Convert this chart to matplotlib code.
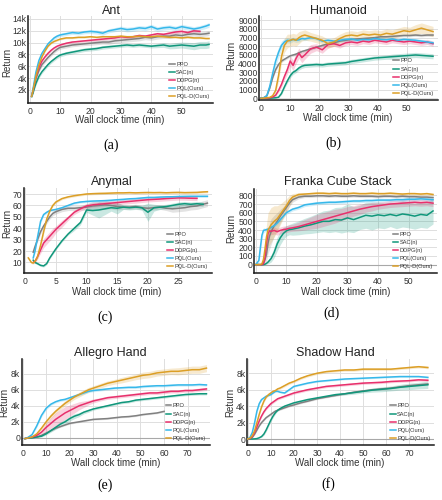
import numpy as np
import matplotlib.pyplot as plt

plt.rcParams['font.family'] = ['Liberation Sans', 'DejaVu Sans']

nan = np.nan

labels = ['PPO', 'SAC(n)', 'DDPG(n)', 'PQL(Ours)', 'PQL-D(Ours)']
colors = ['#808080', '#10977b', '#e8306c', '#36b8ea', '#dc9f26']

# ---- (a) Ant, return in k ----
ant_t = [0.6, 1, 1.5, 2, 3, 4, 5, 6, 7, 8, 9, 10, 12, 14, 16, 18, 20, 22, 24,
         26, 28, 30, 32, 34, 36, 38, 40, 42, 44, 46, 48, 50, 52, 54, 56, 58, 59]
ant_ppo = [1.0, 1.7, 2.8, 3.9, 5.3, 6.3, 6.9, 7.5, 8.0, 8.5, 8.9, 9.2, 9.4,
           9.6, 9.7, 9.8, 9.9, 10.0, 10.1, 10.1, 10.3, 10.4, 10.5, 10.6, 10.7,
           10.9, 10.8, 11.0, 11.1, 11.1, 11.3, 11.2, 11.4, 11.5, 11.4, 11.5, 11.6]
ant_sac = [0.9, 1.4, 2.3, 3.1, 4.3, 5.1, 5.7, 6.3, 6.8, 7.2, 7.6, 7.9, 8.2,
           8.4, 8.6, 8.8, 8.9, 9.0, 9.2, 9.3, 9.4, 9.5, 9.6, 9.5, 9.6, 9.5,
           9.4, 9.5, 9.6, 9.4, 9.5, 9.6, 9.5, 9.4, 9.6, 9.6, 9.7]
ant_ddpg = [1.0, 1.8, 3.0, 4.2, 5.8, 6.9, 7.6, 8.2, 8.7, 9.1, 9.4, 9.6, 9.9,
            10.1, 10.2, 10.3, 10.4, 10.5, 10.6, 10.7, 10.8, 11.0, 10.9, 11.0,
            11.2, 11.1, 11.3, 11.5, 11.4, 11.6, 11.8, 11.9, 11.7, 12.0, 11.9, nan, nan]
ant_pql = [0.9, 2.0, 3.5, 5.0, 7.0, 8.2, 9.0, 9.8, 10.3, 10.8, 11.1, 11.3, 11.5,
           11.7, 11.6, 11.8, 11.9, 11.8, 11.6, 12.0, 12.2, 12.4, 12.2, 12.3,
           12.5, 12.4, 12.7, 12.3, 12.5, 12.6, 12.4, 12.7, 12.5, 12.3, 12.5, 12.8, 13.0]
ant_pqld = [0.9, 1.8, 3.0, 4.3, 6.2, 7.6, 8.6, 9.4, 9.9, 10.2, 10.4, 10.6, 10.8,
            10.8, 10.9, 10.9, 11.0, 10.9, 11.0, 11.0, 11.0, 11.1, 11.0, 11.0,
            11.1, 11.0, 11.0, 11.1, 11.0, 10.9, 10.9, 10.8, 10.9, 10.8, 10.8, 10.7, 10.7]
ant_ppo_sd = [0.1, 0.2, 0.3, 0.3, 0.3, 0.3, 0.3, 0.3, 0.3, 0.3, 0.3, 0.3, 0.3,
              0.3, 0.3, 0.3, 0.35, 0.35, 0.35, 0.4, 0.4, 0.4, 0.4, 0.4, 0.4,
              0.4, 0.4, 0.4, 0.4, 0.4, 0.4, 0.4, 0.4, 0.4, 0.4, 0.4, 0.4]
ant_sac_sd = [0.1, 0.2, 0.2, 0.3, 0.3, 0.3, 0.3, 0.3, 0.3, 0.3, 0.3, 0.3, 0.3,
              0.3, 0.3, 0.3, 0.3, 0.3, 0.3, 0.3, 0.3, 0.3, 0.3, 0.3, 0.3, 0.3,
              0.3, 0.35, 0.4, 0.45, 0.5, 0.5, 0.55, 0.6, 0.6, 0.6, 0.6]
ant_ddpg_sd = [0.1, 0.2, 0.2, 0.2, 0.2, 0.2, 0.2, 0.2, 0.2, 0.2, 0.2, 0.2, 0.2,
               0.2, 0.2, 0.2, 0.2, 0.2, 0.2, 0.2, 0.25, 0.25, 0.25, 0.25, 0.25,
               0.25, 0.25, 0.25, 0.25, 0.25, 0.3, 0.3, 0.3, 0.3, 0.3, 0.3, 0.3]
ant_pql_sd = [0.1, 0.2, 0.3, 0.3, 0.3, 0.3, 0.3, 0.3, 0.3, 0.3, 0.3, 0.3, 0.3,
              0.3, 0.3, 0.3, 0.35, 0.35, 0.35, 0.35, 0.35, 0.4, 0.4, 0.4, 0.4,
              0.4, 0.4, 0.4, 0.4, 0.4, 0.4, 0.4, 0.4, 0.4, 0.4, 0.4, 0.4]
ant_pqld_sd = [0.1, 0.1, 0.15, 0.15, 0.15, 0.15, 0.15, 0.15, 0.15, 0.15, 0.15,
               0.15, 0.15, 0.15, 0.15, 0.15, 0.15, 0.15, 0.15, 0.15, 0.15, 0.15,
               0.15, 0.15, 0.15, 0.15, 0.15, 0.15, 0.15, 0.15, 0.15, 0.15, 0.15,
               0.15, 0.15, 0.15, 0.15]

# ---- (b) Humanoid ----
hum_t = [0, 1, 2, 3, 4, 5, 6, 7, 8, 9, 10, 11, 12, 13, 14, 15, 17, 19, 21, 23,
         25, 27, 29, 31, 33, 35, 37, 39, 41, 43, 45, 47, 49, 51, 53, 55, 57, 59]
hum_ppo = [20, 80, 300, 1200, 2400, 3300, 3900, 4300, 4500, 4700,
           4900, 5000, 5100, 5250, 5400, 5500, 5700, 5900, 6100, 6300,
           6400, 6600, 6700, 6800, 6850, 6900, 6950, 7000, 7100, 7100,
           7150, 7200, 7250, 7250, 7300, 7250, 7300, 7300]
hum_sac = [0, 0, 0, 10, 30, 60, 120, 550, 1300, 2000,
           2600, 3000, 3200, 3500, 3700, 3800, 3850, 3900, 3850, 3950,
           4000, 4050, 4100, 4250, 4350, 4450, 4550, 4650, 4700, 4750,
           4800, 4850, 4900, 4950, 5000, 4950, 4900, 4850]
hum_ddpg = [0, 0, 20, 60, 150, 350, 900, 1600, 2500, 3300,
            4300, 3800, 4600, 5200, 4700, 5000, 5700, 5900, 5600, 6200,
            6300, 6100, 6400, 6500, 6400, 6600, 6500, 6700, 6600, 6500,
            6700, 6600, 6500, 6600, 6500, 6400, 6500, 6300]
hum_pql = [20, 60, 300, 1400, 2900, 4300, 5300, 6100, 6500, 6700,
           6650, 6800, 6700, 6750, 6900, 6850, 7000, 6900, 6600, 6700,
           6600, 6700, 6800, 6850, 6700, 6800, 6750, 6900, 6800, 6750,
           6850, 6700, 6800, 6750, 6700, 6600, 6500, 6400]
hum_pqld = [0, 20, 50, 100, 300, 900, 2600, 4800, 6100, 6600,
            6700, 6800, 6700, 7000, 7200, 7300, 7100, 6900, 6700, 6300,
            6500, 6900, 7200, 7300, 7200, 7400, 7300, 7400, 7300, 7500,
            7400, 7600, 7800, 7700, 7900, 8100, 7900, 7700]
hum_ppo_sd = [0, 20, 50, 100, 150, 150, 150, 150, 150, 150,
              150, 150, 150, 150, 150, 150, 150, 150, 150, 150,
              150, 150, 150, 150, 150, 150, 150, 150, 150, 150,
              150, 150, 150, 150, 150, 150, 150, 150]
hum_sac_sd = [0, 0, 0, 0, 10, 20, 50, 150, 200, 250,
              250, 250, 250, 250, 250, 250, 250, 250, 250, 250,
              250, 250, 250, 250, 250, 250, 250, 250, 250, 250,
              300, 300, 300, 300, 300, 300, 300, 300]
hum_ddpg_sd = [0, 0, 0, 20, 50, 100, 200, 300, 400, 500,
               600, 600, 600, 600, 600, 500, 500, 400, 400, 400,
               300, 300, 300, 300, 300, 300, 300, 300, 300, 300,
               300, 300, 300, 300, 300, 300, 300, 300]
hum_pql_sd = [0, 20, 100, 300, 500, 600, 600, 500, 400, 300,
              300, 250, 250, 250, 200, 200, 200, 200, 200, 200,
              200, 200, 200, 200, 200, 200, 200, 200, 200, 200,
              200, 200, 200, 200, 200, 200, 200, 200]
hum_pqld_sd = [0, 0, 20, 50, 100, 300, 600, 800, 800, 800,
               700, 700, 700, 700, 600, 600, 500, 500, 500, 500,
               500, 500, 500, 500, 500, 500, 500, 500, 500, 500,
               500, 500, 500, 500, 600, 600, 600, 600]

# ---- (c) Anymal ----
any_t = [0.5, 1, 1.3, 1.6, 2, 2.5, 3, 3.5, 4, 4.5, 5, 6, 7, 8, 9, 10, 11, 12,
         13, 14, 15, 16, 17, 18, 19, 20, 21, 22, 23, 24, 25, 26, 27, 28, 29, 29.7]
any_ppo = [nan, nan, 19, 24, 30, 37, 42, 46, 50, 53, 54.5, 56.5, 57.5, 57.5,
           58, 58.5, 59.5, 60, 60.5, 60, 59, 58.5, 58.5, 59, 58, 57.5, 58, 58.5,
           57.5, 57, 57.5, 58, 59, 59.5, 61, 62]
any_sac = [nan, nan, 12, 10, 9, 7.5, 7, 9, 14, 18, 22, 29, 35, 40, 45, 56,
           55.5, 56, 57, 58, 57.5, 58.5, 58, 58.5, 58, 54, 58, 58.5, 59, 60, 61,
           61.5, 61, 61.5, 61, nan]
any_ddpg = [nan, nan, 10, 11, 15, 21, 27, 30, 33, 36, 39, 44, 49, 54, 57, 59.5,
            60.5, 61, 61.5, 62, 62.5, 63, 63.5, 64, 64.5, 65, 65.3, 65.6, 66,
            66.3, 66.6, 66.5, 66.3, 66.2, nan, nan]
any_pql = [nan, nan, 14, 20, 32, 46, 52, 54, 55.5, 56, 56.5, 58, 60, 62, 63,
           63.5, 63.8, 64, 64.2, 64.5, 65, 65.3, 65.8, 66, 66.5, 67, 67, 67.3,
           67.5, 67.6, 67.8, 67.9, 68, 68, 68, 68]
any_pqld = [14, 10, 9.5, 11, 15, 25, 37, 48, 55, 60, 63, 66, 67.5, 68.5, 69.3,
            70, 70.3, 70.5, 70.6, 70.8, 71, 71, 71.2, 71, 71.2, 71.3, 71.2, 71.3,
            71.1, 71.3, 71.4, 71.2, 71.3, 71.4, 71.8, 72]
any_ppo_sd = [0, 0, 1, 1, 2, 2, 2, 2, 2, 2, 2, 2, 2, 2, 2, 3, 4, 4, 4, 3, 3, 2,
              2, 2, 2, 2, 2, 2, 2, 3, 3, 3, 3, 3, 3, 3]
any_sac_sd = [0, 0, 1, 1, 1, 1, 1, 1, 1, 1, 1, 1, 1, 2, 2, 2, 4, 7, 5, 3, 5, 2,
              2, 2, 2, 8, 3, 2, 2, 2, 2, 2, 2, 2, 2, 2]
any_ddpg_sd = [0, 0, 1, 1, 2, 3, 4, 4, 4, 4, 3, 3, 2, 2, 2, 2, 2, 2, 2, 2, 2,
               2, 2, 2, 2, 2, 2, 2, 2, 2, 2, 2, 2, 2, 2, 2]
any_pql_sd = [0, 0, 1, 1, 2, 2, 1, 1, 1, 1, 1, 1, 1, 1, 1, 1, 1, 1, 1, 1, 1, 1,
              1, 1, 1, 1, 1, 1, 1, 1, 1, 1, 1, 1, 1, 1]
any_pqld_sd = [1, 1, 1, 1, 2, 2, 2, 2, 1, 1, 1, 1, 1, 1, 1, 1, 1, 1, 1, 1, 1, 1,
               1, 1, 1, 1, 1, 1, 1, 1, 1, 1, 1, 1, 1, 1]

# ---- (d) Franka Cube Stack ----
fra_t = [0, 1, 1.5, 2, 2.5, 3, 3.5, 4, 4.5, 5, 6, 7, 8, 9, 10, 11, 12, 14, 16,
         18, 20, 22, 24, 26, 28, 30, 32, 34, 36, 38, 40, 42, 44, 46, 48, 50, 52,
         54, 56, 58]
fra_ppo = [0, 0, 0, 0, 20, 60, 120, 250, 330, 380, 450, 500, 560, 610, 660,
           710, 750, 780, 790, 790, 795, 795, 790, 795, 790, 790, 795, 790, 790,
           790, 785, 790, 790, 785, 790, 785, 785, 780, 780, 775]
fra_sac = [0, 0, 0, 0, 0, 5, 15, 30, 50, 70, 140, 240, 310, 360, 390, 405, 410,
           425, 445, 460, 480, 500, 500, 520, 515, 540, 520, 545, 570, 560, 575,
           565, 580, 565, 585, 575, 560, 580, 570, 620]
fra_ddpg = [0, 0, 0, 0, 10, 80, 250, 360, 390, 385, 395, 380, 395, 405, 410,
            420, 425, 440, 460, 480, 500, 520, 540, 560, 580, 600, 620, 640, 655,
            670, 680, 690, 700, 705, 710, 715, 720, 715, 720, 710]
fra_pql = [0, 50, 200, 340, 395, 400, 405, 410, 420, 430, 450, 480, 520, 560,
           600, 620, 640, 660, 690, 700, 710, 715, 720, 720, 725, 730, 735, 735,
           740, 740, 745, 745, 745, 750, 750, 755, 755, 760, 755, 750]
fra_pqld = [0, 0, 0, 10, 60, 180, 320, 400, 430, 460, 500, 530, 580, 630, 680,
            740, 780, 810, 815, 820, 825, 825, 820, 825, 820, 820, 825, 820, 820,
            825, 820, 820, 825, 820, 815, 820, 820, 815, 820, 810]
fra_ppo_sd = [0, 0, 0, 0, 20, 50, 80, 120, 150, 150, 120, 100, 80, 60, 50, 40,
              30, 20, 15, 15, 15, 15, 15, 15, 15, 15, 15, 15, 15, 15, 15, 15,
              15, 15, 15, 15, 15, 15, 15, 15]
fra_sac_sd = [0, 0, 0, 0, 0, 5, 10, 20, 30, 40, 60, 80, 80, 70, 60, 60, 70, 80,
              90, 100, 110, 120, 130, 140, 150, 160, 150, 140, 150, 160, 150,
              150, 140, 150, 150, 150, 150, 150, 150, 150]
fra_ddpg_sd = [0, 0, 0, 0, 10, 40, 60, 50, 40, 40, 40, 40, 40, 40, 40, 40, 40,
               50, 60, 70, 80, 80, 80, 80, 70, 70, 60, 60, 50, 50, 40, 40, 40,
               40, 40, 40, 40, 40, 40, 40]
fra_pql_sd = [0, 30, 60, 50, 30, 20, 20, 20, 20, 20, 20, 20, 20, 20, 20, 20, 20,
              20, 20, 20, 20, 20, 20, 20, 20, 20, 20, 20, 20, 20, 20, 20, 20,
              20, 20, 20, 20, 20, 20, 20]
fra_pqld_sd = [0, 0, 0, 10, 40, 100, 150, 200, 200, 200, 180, 150, 120, 100, 80,
               60, 40, 20, 15, 15, 15, 15, 15, 15, 15, 15, 15, 15, 15, 15, 15,
               15, 15, 15, 15, 15, 15, 15, 15, 15]

# ---- (e) Allegro Hand, return in k ----
all_t = [1, 2, 4, 6, 8, 10, 12, 14, 16, 18, 20, 22, 24, 26, 28, 30, 33, 36, 39,
         42, 45, 48, 51, 54, 57, 60, 63, 66, 69, 72, 75, 78]
all_ppo = [-0.1, -0.05, 0, 0.1, 0.3, 0.6, 0.9, 1.2, 1.4, 1.6, 1.8, 1.9, 2.0,
           2.1, 2.2, 2.3, 2.35, 2.4, 2.5, 2.6, 2.65, 2.75, 2.9, 3.0, 3.1, 3.3,
           nan, nan, nan, nan, nan, nan]
all_sac = [-0.1, -0.05, 0, 0.1, 0.2, 0.5, 0.9, 1.3, 1.7, 2.0, 2.4, 2.7, 2.9,
           3.2, 3.4, 3.6, 3.8, 4.0, 4.2, 4.4, 4.5, 4.7, 4.8, 4.9, 5.0, 5.1, 5.2,
           5.3, 5.4, 5.45, 5.5, 5.5]
all_ddpg = [-0.1, 0, 0.1, 0.3, 0.7, 1.3, 1.8, 2.3, 2.7, 3.1, 3.4, 3.7, 4.0, 4.2,
            4.4, 4.6, 4.8, 5.0, 5.1, 5.2, 5.3, 5.4, 5.5, 5.6, 5.6, 5.7, 5.8, 5.8,
            5.9, 5.9, 6.0, 6.1]
all_pql = [-0.1, 0, 0.4, 1.5, 2.8, 3.7, 4.2, 4.5, 4.7, 4.8, 5.0, 5.2, 5.4, 5.6,
           5.8, 5.9, 6.0, 6.1, 6.2, 6.25, 6.3, 6.3, 6.4, 6.45, 6.5, 6.5, 6.55,
           6.6, 6.6, 6.6, 6.65, 6.6]
all_pqld = [-0.1, -0.05, 0.1, 0.5, 1.2, 2.0, 2.7, 3.3, 3.8, 4.3, 4.7, 5.1, 5.4,
            5.7, 6.0, 6.2, 6.5, 6.8, 7.0, 7.2, 7.4, 7.6, 7.8, 7.9, 8.1, 8.2, 8.3,
            8.3, 8.4, 8.5, 8.5, 8.7]
all_ppo_sd = [0, 0, 0, 0.05, 0.1, 0.1, 0.1, 0.1, 0.1, 0.1, 0.1, 0.1, 0.1, 0.1,
              0.1, 0.1, 0.1, 0.1, 0.1, 0.1, 0.1, 0.1, 0.1, 0.1, 0.1, 0.1, 0, 0,
              0, 0, 0, 0]
all_sac_sd = [0, 0, 0, 0.05, 0.1, 0.15, 0.2, 0.25, 0.3, 0.3, 0.3, 0.3, 0.25,
              0.2, 0.2, 0.15, 0.15, 0.15, 0.15, 0.15, 0.15, 0.15, 0.15, 0.15,
              0.15, 0.15, 0.15, 0.15, 0.15, 0.15, 0.15, 0.15]
all_ddpg_sd = [0, 0, 0.05, 0.15, 0.3, 0.5, 0.7, 0.8, 0.8, 0.8, 0.7, 0.6, 0.5,
               0.4, 0.3, 0.25, 0.2, 0.2, 0.2, 0.2, 0.2, 0.2, 0.2, 0.2, 0.2, 0.2,
               0.2, 0.2, 0.2, 0.2, 0.2, 0.2]
all_pql_sd = [0, 0, 0.1, 0.2, 0.2, 0.2, 0.15, 0.15, 0.15, 0.15, 0.15, 0.15,
              0.15, 0.15, 0.15, 0.15, 0.15, 0.15, 0.15, 0.15, 0.15, 0.15, 0.15,
              0.15, 0.15, 0.15, 0.15, 0.15, 0.15, 0.15, 0.15, 0.15]
all_pqld_sd = [0, 0, 0.05, 0.1, 0.2, 0.3, 0.3, 0.3, 0.3, 0.3, 0.3, 0.3, 0.3,
               0.3, 0.3, 0.3, 0.3, 0.3, 0.3, 0.35, 0.35, 0.35, 0.4, 0.4, 0.4,
               0.4, 0.4, 0.45, 0.45, 0.45, 0.45, 0.45]

# ---- (f) Shadow Hand, return in k ----
sha_t = [0, 1, 2, 3, 4, 5, 6, 7, 8, 9, 10, 11, 12, 13, 14, 16, 18, 20, 23, 26,
         30, 34, 38, 42, 46, 50, 54, 58, 62, 66, 70, 74, 78]
sha_ppo = [0, 0.05, 0.2, 0.6, 1.1, 1.6, 2.0, 2.3, 2.6, 2.8, 3.0, 3.2, 3.4, 3.5,
           3.6, 3.8, 4.0, 4.15, 4.4, 4.6, 4.9, 5.1, 5.3, 5.5, 5.7, 5.85, 6.0,
           6.1, 6.2, 6.35, 6.5, 6.6, 6.7]
sha_sac = [0, 0, 0, 0.02, 0.05, 0.15, 0.3, 0.6, 1.1, 1.7, 2.3, 2.8, 3.2, 3.5,
           3.7, 4.0, 4.2, 4.4, 4.6, 4.8, 5.0, 5.2, 5.4, 5.5, 5.65, 5.8, 5.95,
           6.05, 6.15, 6.3, 6.4, 6.5, 6.6]
sha_ddpg = [0, 0.05, 0.3, 0.8, 1.5, 2.2, 2.8, 3.3, 3.7, 4.0, 4.3, 4.5, 4.7, 4.9,
            5.0, 5.2, 5.4, 5.6, 5.8, 6.0, 6.2, 6.4, 6.5, 6.6, 6.7, 6.8, 6.85,
            6.9, 7.0, 7.05, 7.1, 7.2, 7.15]
sha_pql = [0, 0.2, 0.8, 2.0, 3.4, 4.3, 4.8, 5.0, 5.2, 5.3, 5.4, 5.6, 5.8, 5.8,
           5.7, 5.6, 6.0, 6.4, 6.6, 6.8, 7.0, 7.1, 7.2, 7.3, 7.35, 7.4, 7.45,
           7.5, 7.55, 7.6, 7.6, 7.6, 7.5]
sha_pqld = [0, 0.1, 0.4, 1.0, 2.0, 3.0, 3.9, 4.6, 5.1, 5.4, 5.6, 5.8, 5.9, 6.1,
            6.2, 6.5, 6.8, 7.0, 7.4, 7.7, 8.0, 8.2, 8.3, 8.4, 8.4, 8.5, 8.5,
            8.5, 8.5, 8.6, 8.7, 8.8, 8.7]
sha_ppo_sd = [0, 0, 0.05, 0.1, 0.1, 0.1, 0.1, 0.1, 0.1, 0.1, 0.1, 0.1, 0.1, 0.1,
              0.1, 0.1, 0.1, 0.1, 0.1, 0.1, 0.1, 0.1, 0.1, 0.1, 0.1, 0.1, 0.1,
              0.1, 0.1, 0.1, 0.1, 0.1, 0.1]
sha_sac_sd = [0, 0, 0, 0, 0.02, 0.05, 0.1, 0.15, 0.2, 0.2, 0.2, 0.2, 0.15, 0.1,
              0.1, 0.1, 0.1, 0.1, 0.1, 0.1, 0.1, 0.1, 0.15, 0.15, 0.2, 0.2, 0.25,
              0.3, 0.3, 0.35, 0.4, 0.4, 0.45]
sha_ddpg_sd = [0, 0, 0.05, 0.1, 0.15, 0.15, 0.15, 0.15, 0.15, 0.15, 0.15, 0.15,
               0.15, 0.15, 0.15, 0.15, 0.15, 0.15, 0.15, 0.15, 0.15, 0.15, 0.15,
               0.15, 0.15, 0.15, 0.15, 0.15, 0.15, 0.15, 0.15, 0.15, 0.15]
sha_pql_sd = [0, 0.05, 0.1, 0.2, 0.2, 0.15, 0.1, 0.1, 0.1, 0.1, 0.1, 0.1, 0.1,
              0.1, 0.1, 0.1, 0.1, 0.1, 0.1, 0.1, 0.1, 0.1, 0.1, 0.1, 0.1, 0.1,
              0.1, 0.1, 0.1, 0.1, 0.1, 0.1, 0.1]
sha_pqld_sd = [0, 0, 0.05, 0.1, 0.15, 0.15, 0.15, 0.15, 0.15, 0.15, 0.15, 0.15,
               0.15, 0.15, 0.15, 0.15, 0.15, 0.15, 0.15, 0.15, 0.15, 0.15, 0.15,
               0.15, 0.15, 0.15, 0.15, 0.15, 0.15, 0.15, 0.15, 0.15, 0.15]

W, H = 442, 500


def fx(px):
    return px / W


def fy(py):
    return 1 - py / H


def make_axes(fig, box):
    l, t, r, b = box
    return fig.add_axes([fx(l), fy(b), fx(r - l), (b - t) / H])


def draw(ax, t, ys, sds, xlim, ylim, xticks, yticks, yticklabels, zero_line=False):
    t = np.asarray(t, float)
    if zero_line:
        ax.axhline(0, color='#a8a8a8', lw=0.8, zorder=1)
    for y, sd, c, lab in zip(ys, sds, colors, labels):
        y = np.asarray(y, float)
        sd = np.asarray(sd, float)
        ax.fill_between(t, y - sd, y + sd, color=c, alpha=0.22, lw=0, zorder=2)
        ax.plot(t, y, color=c, lw=1.1, label=lab, zorder=3)
    ax.set_xlim(*xlim)
    ax.set_ylim(*ylim)
    ax.set_xticks(xticks)
    ax.set_yticks(yticks)
    ax.set_yticklabels(yticklabels)
    ax.grid(True, color='#dedede', lw=0.7)
    ax.set_axisbelow(True)
    for s in ['top', 'right']:
        ax.spines[s].set_visible(False)
    for s in ['left', 'bottom']:
        ax.spines[s].set_color('#1a1a1a')
        ax.spines[s].set_linewidth(1.1)
    ax.tick_params(length=0, labelsize=6.2, colors='#333333')
    ax.tick_params(axis='y', pad=1.1)
    ax.tick_params(axis='x', pad=2.8)
    leg = ax.legend(loc='lower right', fontsize=4.1, frameon=False,
                    handlelength=1.0, handletextpad=0.25, labelspacing=0.55,
                    borderaxespad=0.3)
    for txt in leg.get_texts():
        txt.set_color('#333333')


fig = plt.figure(figsize=(W / 100, H / 100), dpi=100)

panels = [
    dict(box=(28.3, 16, 213.3, 103.3), t=ant_t,
         ys=[ant_ppo, ant_sac, ant_ddpg, ant_pql, ant_pqld],
         sds=[ant_ppo_sd, ant_sac_sd, ant_ddpg_sd, ant_pql_sd, ant_pqld_sd],
         xlim=(-0.5, 60.4), ylim=(-0.25, 14.5), xticks=[0, 10, 20, 30, 40, 50],
         yticks=[2, 4, 6, 8, 10, 12, 14],
         ylabels=['2k', '4k', '6k', '8k', '10k', '12k', '14k'],
         title='Ant', tpos=(111, 11), xl=(120, 120), yl=(12, 62),
         cap='(a)', cpos=(111, 145), zero=False),
    dict(box=(259.3, 16, 437.7, 100), t=hum_t,
         ys=[hum_ppo, hum_sac, hum_ddpg, hum_pql, hum_pqld],
         sds=[hum_ppo_sd, hum_sac_sd, hum_ddpg_sd, hum_pql_sd, hum_pqld_sd],
         xlim=(-0.6, 60.6), ylim=(-200, 9500), xticks=[0, 10, 20, 30, 40, 50],
         yticks=list(range(0, 9001, 1000)),
         ylabels=[str(v) for v in range(0, 9001, 1000)],
         title='Humanoid', tpos=(338, 11), xl=(348, 118), yl=(236.5, 55),
         cap='(b)', cpos=(333, 143), zero=False),
    dict(box=(24, 188.3, 211.7, 273.3), t=any_t,
         ys=[any_ppo, any_sac, any_ddpg, any_pql, any_pqld],
         sds=[any_ppo_sd, any_sac_sd, any_ddpg_sd, any_pql_sd, any_pqld_sd],
         xlim=(-0.2, 30.4), ylim=(0.5, 75), xticks=[0, 5, 10, 15, 20, 25],
         yticks=[10, 20, 30, 40, 50, 60, 70],
         ylabels=['10', '20', '30', '40', '50', '60', '70'],
         title='Anymal', tpos=(112, 182), xl=(117, 292), yl=(12.5, 223),
         cap='(c)', cpos=(105, 317), zero=False),
    dict(box=(254.3, 189.3, 437, 273.3), t=fra_t,
         ys=[fra_ppo, fra_sac, fra_ddpg, fra_pql, fra_pqld],
         sds=[fra_ppo_sd, fra_sac_sd, fra_ddpg_sd, fra_pql_sd, fra_pqld_sd],
         xlim=(-0.5, 59.3), ylim=(-100, 870), xticks=[0, 10, 20, 30, 40, 50],
         yticks=list(range(0, 801, 100)),
         ylabels=[str(v) for v in range(0, 801, 100)],
         title='Franka Cube Stack', tpos=(338, 182), xl=(346, 292), yl=(236, 228),
         cap='(d)', cpos=(332, 313), zero=True),
    dict(box=(21.7, 359.3, 210, 445), t=all_t,
         ys=[all_ppo, all_sac, all_ddpg, all_pql, all_pqld],
         sds=[all_ppo_sd, all_sac_sd, all_ddpg_sd, all_pql_sd, all_pqld_sd],
         xlim=(-0.4, 79.5), ylim=(-0.9, 9.8), xticks=[0, 10, 20, 30, 40, 50, 60, 70],
         yticks=[0, 2, 4, 6, 8], ylabels=['0', '2k', '4k', '6k', '8k'],
         title='Allegro Hand', tpos=(110, 353), xl=(116, 463), yl=(9.5, 402),
         cap='(e)', cpos=(105, 485), zero=True),
    dict(box=(247, 359.3, 434.3, 445), t=sha_t,
         ys=[sha_ppo, sha_sac, sha_ddpg, sha_pql, sha_pqld],
         sds=[sha_ppo_sd, sha_sac_sd, sha_ddpg_sd, sha_pql_sd, sha_pqld_sd],
         xlim=(-0.3, 80.8), ylim=(-0.73, 9.7), xticks=[0, 10, 20, 30, 40, 50, 60, 70],
         yticks=[0, 2, 4, 6, 8], ylabels=['0', '2k', '4k', '6k', '8k'],
         title='Shadow Hand', tpos=(335, 353), xl=(340, 463), yl=(235, 402),
         cap='(f)', cpos=(328, 484), zero=True),
]

for p in panels:
    ax = make_axes(fig, p['box'])
    draw(ax, p['t'], p['ys'], p['sds'], p['xlim'], p['ylim'], p['xticks'],
         p['yticks'], p['ylabels'], zero_line=p['zero'])
    ax.set_xlabel('Wall clock time (min)', fontsize=7, color='#333333', va='center')
    ax.xaxis.set_label_coords(fx(p['xl'][0]), fy(p['xl'][1]), transform=fig.transFigure)
    ax.set_ylabel('Return', fontsize=7, color='#333333')
    ax.yaxis.set_label_coords(fx(p['yl'][0]), fy(p['yl'][1]), transform=fig.transFigure)
    fig.text(fx(p['tpos'][0]), fy(p['tpos'][1]), p['title'], fontsize=9,
             ha='center', va='center', color='#222222')
    fig.text(fx(p['cpos'][0]), fy(p['cpos'][1]), p['cap'], fontsize=10,
             ha='center', va='center', family=['Liberation Serif', 'DejaVu Serif'])

fig.savefig('out.png', dpi=100)
